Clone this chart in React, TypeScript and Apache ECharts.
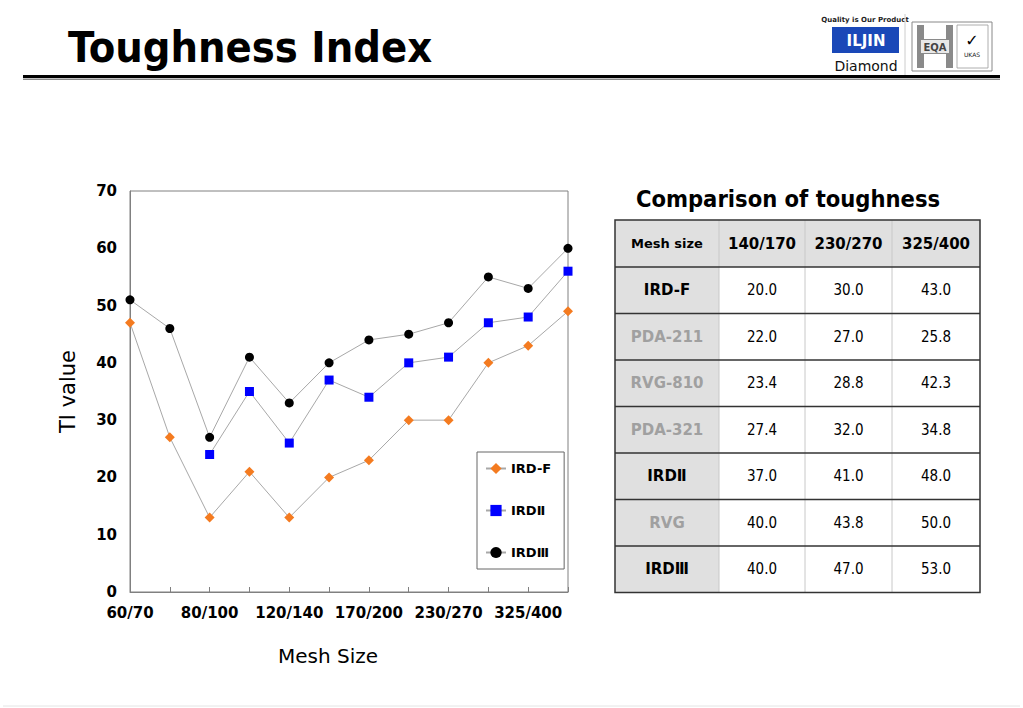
import React, { useEffect, useRef } from "react";
import * as echarts from "echarts";

const meshCategories = [
  "60/70", "70/80", "80/100", "100/120", "120/140", "140/170",
  "170/200", "200/230", "230/270", "270/325", "325/400", "400/500",
];
const irdF = [47, 27, 13, 21, 13, 20, 23, 30, 30, 40, 43, 49];
const ird2 = [null, null, 24, 35, 26, 37, 34, 40, 41, 47, 48, 56];
const ird3 = [51, 46, 27, 41, 33, 40, 44, 45, 47, 55, 53, 60];
const seriesNames = ["IRD-F", "IRDⅡ", "IRDⅢ"];

const tableColumns = ["Mesh size", "140/170", "230/270", "325/400"];
const tableProducts = ["IRD-F", "PDA-211", "RVG-810", "PDA-321", "IRDⅡ", "RVG", "IRDⅢ"];
const tableValues = [
  [20.0, 30.0, 43.0],
  [22.0, 27.0, 25.8],
  [23.4, 28.8, 42.3],
  [27.4, 32.0, 34.8],
  [37.0, 41.0, 48.0],
  [40.0, 43.8, 50.0],
  [40.0, 47.0, 53.0],
];
const tableOwnProduct = [true, false, false, false, true, false, true];

const SANS = "'DejaVu Sans', Verdana, sans-serif";
const COND = "'DejaVu Sans Condensed', 'DejaVu Sans', sans-serif";

function buildTable(): any[] {
  const colX = [615, 719, 805, 892, 980];
  const top = 220;
  const headH = 47;
  const rowH = 46.5;
  const els: any[] = [];
  const bottom = top + headH + rowH * tableProducts.length;
  els.push({ type: "rect", shape: { x: colX[0], y: top, width: colX[4] - colX[0], height: headH }, style: { fill: "#e0e0e0" } });
  els.push({ type: "rect", shape: { x: colX[0], y: top + headH, width: colX[1] - colX[0], height: bottom - top - headH }, style: { fill: "#e0e0e0" } });
  for (let i = 1; i < 4; i++) {
    els.push({ type: "line", shape: { x1: colX[i], y1: top, x2: colX[i], y2: bottom }, style: { stroke: "#c8c8c8", lineWidth: 1 } });
  }
  for (let r = 1; r <= tableProducts.length; r++) {
    const y = top + headH + rowH * (r - 1);
    els.push({ type: "line", shape: { x1: colX[0], y1: y, x2: colX[4], y2: y }, style: { stroke: "#333", lineWidth: 1.5 } });
  }
  els.push({ type: "rect", shape: { x: colX[0], y: top, width: colX[4] - colX[0], height: bottom - top }, style: { fill: "none", stroke: "#333", lineWidth: 1.5 } });
  tableColumns.forEach((c, i) => {
    els.push({
      type: "text",
      x: (colX[i] + colX[i + 1]) / 2,
      y: top + headH / 2,
      style: { text: c, fill: "#000", font: `bold ${i === 0 ? 13 : 15}px ${SANS}`, align: "center", verticalAlign: "middle" },
    });
  });
  tableProducts.forEach((p, r) => {
    const cy = top + headH + rowH * r + rowH / 2;
    els.push({
      type: "text",
      x: (colX[0] + colX[1]) / 2,
      y: cy,
      style: { text: p, fill: tableOwnProduct[r] ? "#000" : "#a0a0a0", font: `bold 15px ${SANS}`, align: "center", verticalAlign: "middle" },
    });
    tableValues[r].forEach((v, c) => {
      els.push({
        type: "text",
        x: (colX[c + 1] + colX[c + 2]) / 2,
        y: cy,
        style: { text: v.toFixed(1), fill: "#000", font: `15px ${COND}`, align: "center", verticalAlign: "middle" },
      });
    });
  });
  return els;
}

function buildHeader(): any[] {
  return [
    { type: "text", x: 68, y: 47, style: { text: "Toughness Index", fill: "#000", font: `bold 43px ${COND}`, verticalAlign: "middle" } },
    { type: "rect", shape: { x: 23, y: 75, width: 977, height: 3 }, style: { fill: "#000" } },
    { type: "rect", shape: { x: 23, y: 78.5, width: 977, height: 1.5 }, style: { fill: "#888" } },
    { type: "text", x: 865, y: 20, style: { text: "Quality is Our Product", fill: "#222", font: `bold 7px ${SANS}`, align: "center", verticalAlign: "middle" } },
    { type: "rect", shape: { x: 832, y: 27, width: 67, height: 26 }, style: { fill: "#1a48b8" } },
    { type: "text", x: 866, y: 41, style: { text: "ILJIN", fill: "#fff", font: `bold 15px ${SANS}`, align: "center", verticalAlign: "middle" } },
    { type: "text", x: 866, y: 66, style: { text: "Diamond", fill: "#111", font: `14px ${SANS}`, align: "center", verticalAlign: "middle" } },
    { type: "line", shape: { x1: 905, y1: 14, x2: 905, y2: 75 }, style: { stroke: "#ccc", lineWidth: 1 } },
    { type: "rect", shape: { x: 912, y: 22, width: 80, height: 49 }, style: { fill: "#fff", stroke: "#888", lineWidth: 1 } },
    { type: "rect", shape: { x: 917, y: 25, width: 36, height: 43 }, style: { fill: "#8a8a8a" } },
    { type: "rect", shape: { x: 924, y: 25, width: 22, height: 14 }, style: { fill: "#fff" } },
    { type: "rect", shape: { x: 924, y: 54, width: 22, height: 14 }, style: { fill: "#fff" } },
    { type: "rect", shape: { x: 921, y: 40, width: 28, height: 13 }, style: { fill: "#e8e8e8" } },
    { type: "text", x: 935, y: 47, style: { text: "EQA", fill: "#444", font: `bold 10px ${SANS}`, align: "center", verticalAlign: "middle" } },
    { type: "rect", shape: { x: 957, y: 25, width: 31, height: 43 }, style: { fill: "#fff", stroke: "#999", lineWidth: 0.8 } },
    { type: "text", x: 972, y: 40, style: { text: "✓", fill: "#000", font: `bold 16px ${SANS}`, align: "center", verticalAlign: "middle" } },
    { type: "text", x: 972, y: 54, style: { text: "UKAS", fill: "#222", font: `6px ${SANS}`, align: "center", verticalAlign: "middle" } },
    { type: "line", shape: { x1: 3, y1: 706, x2: 1020, y2: 706 }, style: { stroke: "#e4e4e4", lineWidth: 1 } },
    { type: "text", x: 788, y: 199, style: { text: "Comparison of toughness", fill: "#000", font: `bold 23.5px ${COND}`, align: "center", verticalAlign: "middle" } },
  ];
}

export default function App() {
  const ref = useRef<HTMLDivElement>(null);
  useEffect(() => {
    if (!ref.current) return;
    const chart = echarts.init(ref.current, undefined, { renderer: "svg" });
    const lineStyle = { color: "#a8a8a8", width: 1 };
    chart.setOption({
      animation: false,
      backgroundColor: "#fff",
      textStyle: { fontFamily: SANS },
      grid: { left: 130, top: 191, width: 438, height: 401, show: true, borderColor: "#808080", borderWidth: 1, containLabel: false },
      legend: {
        orient: "vertical",
        left: 477,
        top: 452,
        padding: [10, 13, 10, 8],
        itemGap: 29,
        itemWidth: 20,
        itemHeight: 14,
        borderColor: "#666",
        borderWidth: 1,
        backgroundColor: "#fff",
        textStyle: { fontFamily: SANS, fontWeight: "bold", fontSize: 13, color: "#000" },
        data: seriesNames,
      },
      xAxis: {
        type: "category",
        data: meshCategories,
        boundaryGap: false,
        name: "Mesh Size",
        nameLocation: "middle",
        nameGap: 54,
        nameTextStyle: { fontFamily: SANS, fontSize: 20, color: "#000", padding: [0, 42, 0, 0] },
        axisLine: { lineStyle: { color: "#808080", width: 1 } },
        axisTick: { show: true, inside: true, length: 5, interval: 0, lineStyle: { color: "#808080" } },
        axisLabel: { interval: 1, margin: 13, fontFamily: SANS, fontWeight: "bold", fontSize: 15, color: "#000" },
        splitLine: { show: false },
      },
      yAxis: {
        type: "value",
        min: 0,
        max: 70,
        interval: 10,
        name: "TI value",
        nameLocation: "middle",
        nameGap: 52,
        nameTextStyle: { fontFamily: SANS, fontSize: 21, color: "#000" },
        axisLine: { show: true, lineStyle: { color: "#808080", width: 1 } },
        axisTick: { show: false },
        axisLabel: { margin: 13, fontFamily: SANS, fontWeight: "bold", fontSize: 15, color: "#000" },
        splitLine: { show: false },
      },
      series: [
        { name: seriesNames[0], type: "line", data: irdF, symbol: "diamond", symbolSize: 10, lineStyle, itemStyle: { color: "#f47b20" } },
        { name: seriesNames[1], type: "line", data: ird2, symbol: "rect", symbolSize: 9, lineStyle, itemStyle: { color: "#0000ff" } },
        { name: seriesNames[2], type: "line", data: ird3, symbol: "circle", symbolSize: 9, lineStyle, itemStyle: { color: "#000" } },
      ],
      graphic: [...buildHeader(), ...buildTable()],
    });
    return () => chart.dispose();
  }, []);
  return <div ref={ref} style={{ position: "fixed", left: 0, top: 0, width: 1023, height: 708 }} />;
}
